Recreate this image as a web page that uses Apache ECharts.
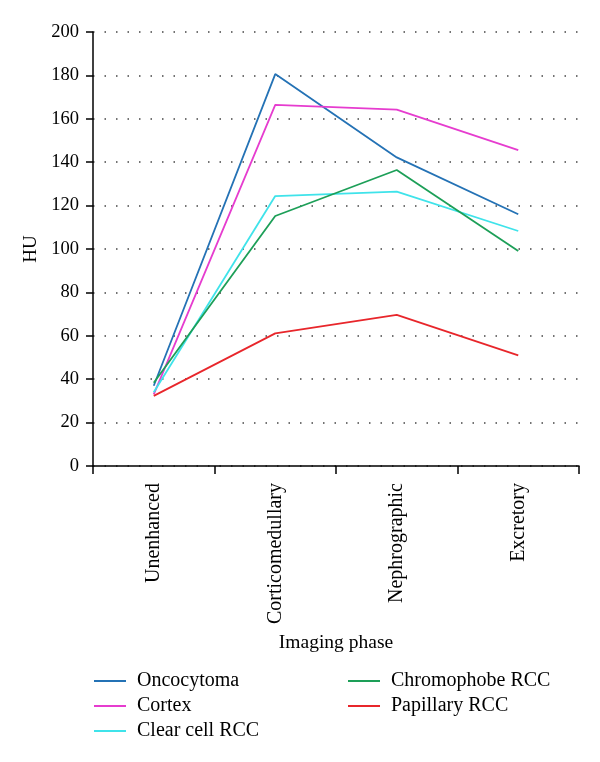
<!DOCTYPE html>
<html>
<head>
<meta charset="utf-8">
<script src="https://cdn.jsdelivr.net/npm/echarts@6/dist/echarts.min.js"></script>
<style>
html,body{margin:0;padding:0;background:#fff;}
#c{width:600px;height:762px;}
</style>
</head>
<body>
<div id="c"></div>
<script>
var categories = ['Unenhanced', 'Corticomedullary', 'Nephrographic', 'Excretory'];
var oncocytoma = [37, 180.6, 142.2, 116];
var cortex = [33, 166.4, 164.2, 145.6];
var clearCell = [34, 124.4, 126.4, 108.3];
var chromophobe = [38.4, 115.2, 136.4, 99.1];
var papillary = [32.3, 61.1, 69.6, 51.0];
var yTicks = { min: 0, max: 200, interval: 20 };

var FONT = 'Liberation Serif';
var chart = echarts.init(document.getElementById('c'), null, { renderer: 'canvas' });

function mk(name, data, color) {
  return {
    name: name, type: 'line', data: data, symbol: 'none',
    lineStyle: { color: color, width: 1.8 }, itemStyle: { color: color },
    animation: false
  };
}

var legendCommon = {
  orient: 'vertical', icon: 'rect', itemWidth: 32, itemHeight: 2,
  itemGap: 5,
  textStyle: { fontFamily: FONT, fontSize: 20, color: '#000', padding: [0, 0, 0, 6] }
};

chart.setOption({
  animation: false,
  backgroundColor: '#fff',
  grid: { left: 93, right: 21, top: 32, bottom: 296 },
  legend: [
    Object.assign({ left: 89, top: 666, data: ['Oncocytoma', 'Cortex', 'Clear cell RCC'] }, legendCommon),
    Object.assign({ left: 343, top: 666, data: ['Chromophobe RCC', 'Papillary RCC'] }, legendCommon)
  ],
  xAxis: {
    type: 'category', data: categories, boundaryGap: true,
    name: 'Imaging phase', nameLocation: 'middle', nameGap: 167,
    nameTextStyle: { fontFamily: FONT, fontSize: 19.5, color: '#000' },
    axisLine: { lineStyle: { color: '#000', width: 1.5 } },
    axisTick: { show: true, length: 8, lineStyle: { color: '#000', width: 1.5 } },
    axisLabel: { rotate: 90, margin: 17, fontFamily: FONT, fontSize: 20, color: '#000' },
    splitLine: { show: false }
  },
  yAxis: {
    type: 'value', min: yTicks.min, max: yTicks.max, interval: yTicks.interval,
    name: 'HU', nameLocation: 'middle', nameGap: 49, nameRotate: 90,
    nameTextStyle: { fontFamily: FONT, fontSize: 19, color: '#000' },
    axisLine: { show: true, lineStyle: { color: '#000', width: 1.5 } },
    axisTick: { show: true, length: 7, lineStyle: { color: '#000', width: 1.5 } },
    axisLabel: { margin: 14, fontFamily: FONT, fontSize: 18.5, color: '#000' },
    splitLine: { show: true, lineStyle: { color: '#444', width: 1.5, type: [1.5, 10] } }
  },
  series: [
    mk('Oncocytoma', oncocytoma, '#2472b5'),
    mk('Cortex', cortex, '#e63ccf'),
    mk('Clear cell RCC', clearCell, '#3fe3ea'),
    mk('Chromophobe RCC', chromophobe, '#1d9f58'),
    mk('Papillary RCC', papillary, '#e8262b')
  ]
});
</script>
</body>
</html>
